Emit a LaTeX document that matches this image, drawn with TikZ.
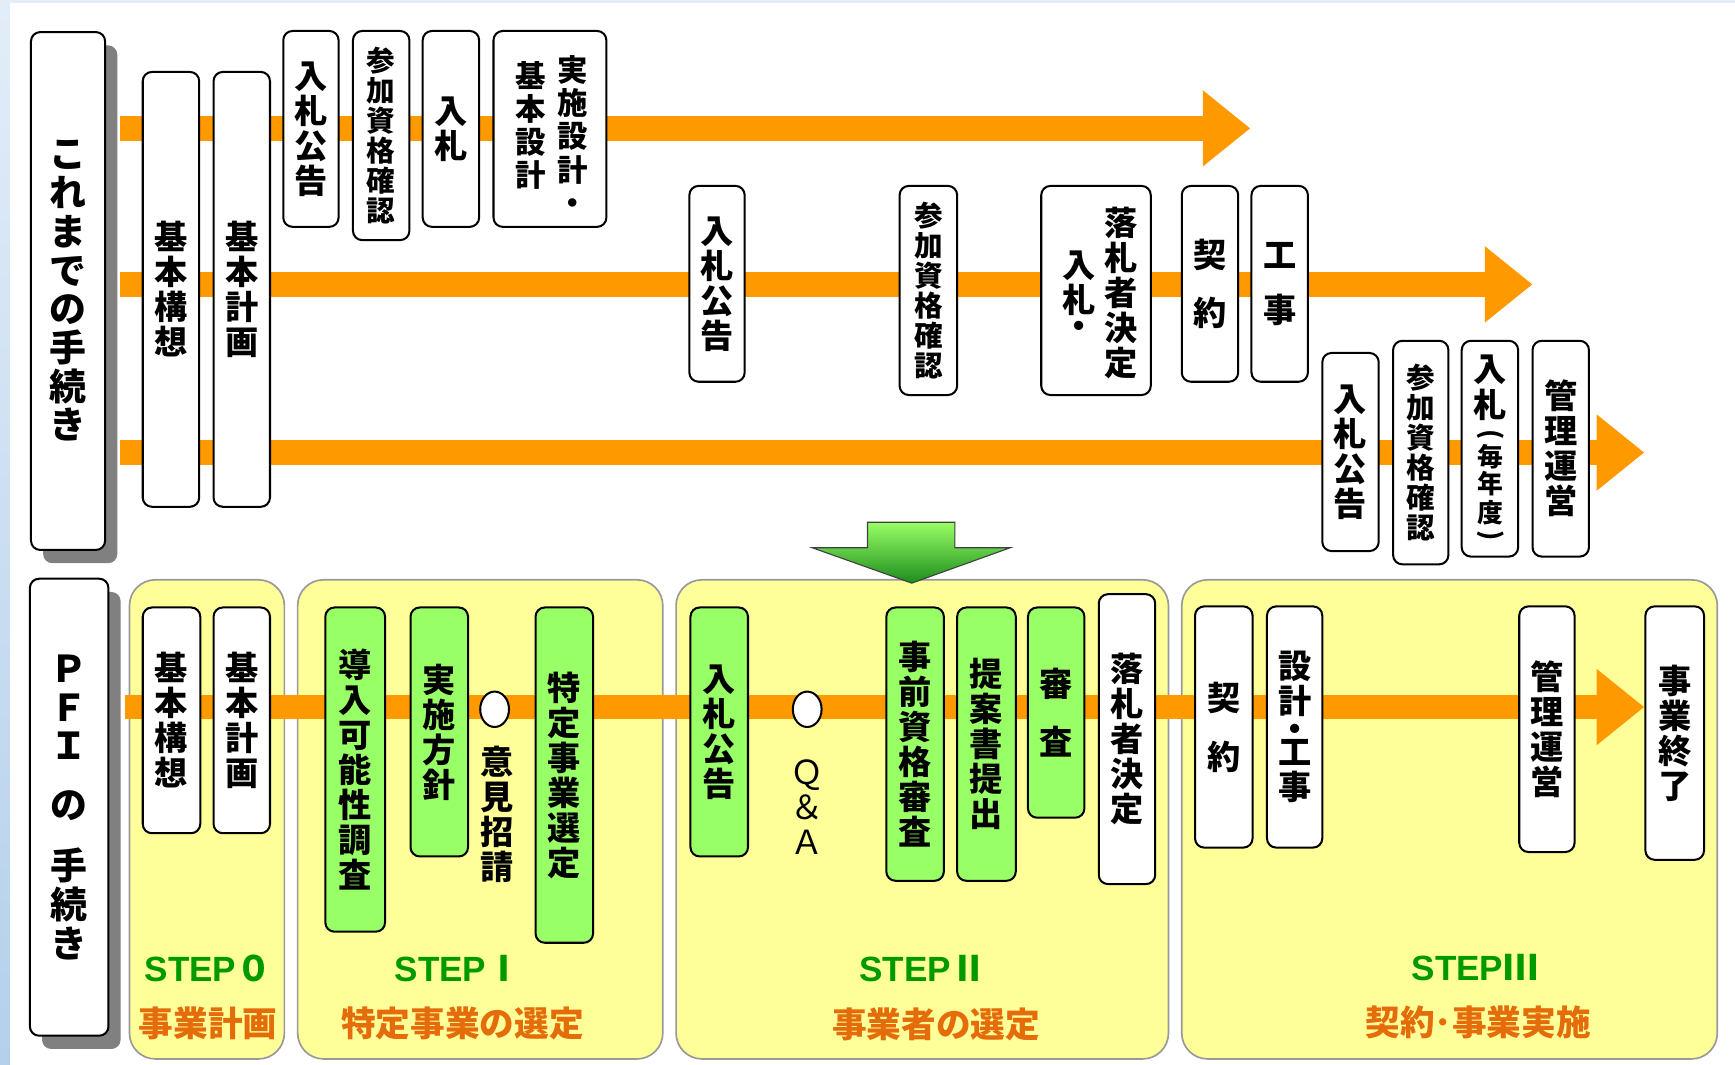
\documentclass[tikz,border=0pt]{standalone}
\usepackage{fontspec}
\setmainfont{Noto Sans CJK JP}
\newfontfamily\lsans{Liberation Sans}
\usetikzlibrary{shapes.geometric,arrows.meta,shadows}
\definecolor{orl}{HTML}{FF9900}
\definecolor{gbox}{HTML}{99FF66}
\definecolor{ypan}{HTML}{FFFF99}
\definecolor{stepg}{HTML}{009900}
\definecolor{subor}{HTML}{E46C0A}
\definecolor{bgblue}{HTML}{E2EDF8}
\definecolor{bgblue2}{HTML}{B4D0EC}
\definecolor{gdark}{HTML}{1C8C1C}
\newcommand\stdf{\bfseries\fontsize{18}{19}\selectfont}
\newcommand\smf{\bfseries\fontsize{15.5}{16.2}\selectfont}
\newcommand\midf{\bfseries\fontsize{16.5}{18}\selectfont}
\newcommand\bigf{\bfseries\fontsize{20}{21}\selectfont}
\newcommand\tinyf{\bfseries\fontsize{14}{15}\selectfont}
\tikzset{
 box/.style={draw=black, line width=1.1pt, rounded corners=5pt, fill=white, inner sep=0pt, align=center, font=\stdf},
 gbx/.style={fill=gbox},
 panel/.style={draw=black!40, line width=0.9pt, rounded corners=14pt, fill=ypan},
 tl/.style={line width=13.2pt, orl, -{Triangle[length=25.8pt,width=39.6pt]}},
 shad/.style={drop shadow={shadow xshift=6.6pt, shadow yshift=-7.2pt, fill=black!50, opacity=1}},
 vt/.style={inner sep=0pt, align=center, font=\stdf},
 circ/.style={draw=black, line width=1.1pt, fill=white, ellipse, minimum width=15.6pt, minimum height=19.2pt, inner sep=0pt},
 stepl/.style={inner sep=0pt, text=stepg, font=\bfseries\fontsize{19}{20}\selectfont},
 subl/.style={inner sep=0pt, text=subor, font=\bfseries\fontsize{18.8}{20}\selectfont},
}
\newcommand{\mkbox}[7][]{%
  \pgfmathsetmacro\bxw{(#5-#3)*0.6}%
  \pgfmathsetmacro\bxh{(#6-#4)*0.6}%
  \node[box,minimum width=\bxw pt,minimum height=\bxh pt,#1] (#2) at ({(#3+#5)/2},{(#4+#6)/2}) {#7};}
\begin{document}
\begin{tikzpicture}[x=0.6pt,y=-0.6pt]
\useasboundingbox (0,0) rectangle (1568,962);
\fill[white] (0,0) rectangle (1568,962);
\shade[top color=bgblue, bottom color=bgblue2] (0,0) rectangle (9,962);
\fill[bgblue] (0,0) rectangle (1568,3);

% STEP panels
\mkbox[panel]{s0}{117}{524}{257}{957}{}
\mkbox[panel]{s1}{269}{524}{599}{957}{}
\mkbox[panel]{s2}{611}{524}{1056}{957}{}
\mkbox[panel]{s3}{1068}{524}{1552}{957}{}

% timeline arrows
\coordinate (a1s) at (108,116);  \coordinate (a1e) at (1130,116);
\coordinate (a2s) at (108,257);  \coordinate (a2e) at (1385,257);
\coordinate (a3s) at (108,409);  \coordinate (a3e) at (1486,409);
\coordinate (a4s) at (113,639);  \coordinate (a4e) at (1486,639);
\draw[tl] (a1s) -- (a1e);
\draw[tl] (a2s) -- (a2e);
\draw[tl] (a3s) -- (a3e);
\draw[tl] (a4s) -- (a4e);

% top: conventional procedure
\mkbox[shad,font=\bigf]{kore}{28}{29}{95}{497}{こ\\れ\\ま\\で\\の\\手\\続\\き}
\mkbox{t1}{129}{65}{180}{458}{基\\本\\構\\想}
\mkbox{t2}{193}{65}{244}{458}{基\\本\\計\\画}
\mkbox{t3}{256}{28}{306}{205}{入\\札\\公\\告}
\mkbox[font=\smf]{t4}{319}{28}{370}{217}{参\\加\\資\\格\\確\\認}
\mkbox{t5}{382}{28}{433}{205}{入\\札}
\mkbox{t6}{446}{28}{548}{205}{}
\node[vt,font=\midf] (t6r) at (518,122) {実\\施\\設\\計\\・};
\node[vt,font=\midf] (t6l) at (480,113.5) {基\\本\\設\\計};

\mkbox{r2a}{623}{168}{673}{345}{入\\札\\公\\告}
\mkbox[font=\smf]{r2b}{813}{168}{865}{357}{参\\加\\資\\格\\確\\認}
\mkbox{r2c}{941}{168}{1040}{357}{}
\node[vt] (r2cr) at (1013,264.5) {落\\札\\者\\決\\定};
\node[vt] (r2cl) at (975,266) {入\\札\\[-5pt]・};
\mkbox{r2d}{1068}{168}{1119}{345}{契\\[12pt]約}
\mkbox{r2e}{1131}{168}{1182}{345}{工\\[11pt]事}

\mkbox{r3a}{1195}{319}{1246}{498}{入\\札\\公\\告}
\mkbox[font=\smf]{r3b}{1259}{308}{1309}{510}{参\\加\\資\\格\\確\\認}
\mkbox{r3c}{1321}{308}{1372}{503}{}
\node[vt] (r3c1) at (1347,334) {入};
\node[vt] (r3c2) at (1347,366) {札};
\node[vt,font=\tinyf,rotate=-90] (r3c3) at (1347,393) {(};
\node[vt,font=\tinyf] (r3c4) at (1347,413) {毎};
\node[vt,font=\tinyf] (r3c5) at (1347,437) {年};
\node[vt,font=\tinyf] (r3c6) at (1347,463) {度};
\node[vt,font=\tinyf,rotate=-90] (r3c7) at (1347,484) {)};
\mkbox{r3d}{1385}{308}{1436}{503}{管\\理\\運\\営}

% green transition arrow
\shade[top color=gbox, bottom color=gdark, draw=black!75, line width=0.6pt]
  (784,472) -- (863,472) -- (863,495) -- (913,495) -- (824,527) -- (734,495) -- (784,495) -- cycle;

% bottom: PFI procedure
\mkbox[shad,font=\bigf]{pfi}{27}{523}{98}{936}{Ｐ\\Ｆ\\Ｉ\\[11pt]の\\[12pt]手\\続\\き}
\mkbox{b1}{129}{549}{181}{753}{基\\本\\構\\想}
\mkbox{b2}{193}{549}{244}{753}{基\\本\\計\\画}
\mkbox[gbx]{b3}{294}{549}{348}{842}{導\\入\\可\\能\\性\\調\\査}
\mkbox[gbx]{b4}{371}{549}{423}{774}{実\\施\\方\\針}
\node[circ] (c1) at (447,641) {};
\node[vt] (ikn) at (449,736) {意\\見\\招\\請};
\mkbox[gbx]{b5}{484}{549}{536}{852}{特\\定\\事\\業\\選\\定}
\mkbox[gbx]{b6}{624}{549}{676}{774}{入\\札\\公\\告}
\node[circ] (c2) at (729.5,641) {};
\node[vt,font=\fontsize{18}{19}\selectfont] (qa) at (729,729.5) {Ｑ\\＆\\Ａ};
\mkbox[gbx]{b7}{801}{549}{853}{796}{事\\前\\資\\格\\審\\査}
\mkbox[gbx]{b8}{865}{549}{918}{796}{提\\案\\書\\提\\出}
\mkbox[gbx]{b9}{929}{549}{980}{739}{審\\[12pt]査}
\mkbox{b10}{993}{537}{1044}{799}{落\\札\\者\\決\\定}
\mkbox{b11}{1080}{548}{1132}{766}{契\\[13pt]約}
\mkbox{b12}{1145}{548}{1195}{766}{設\\計\\[-3.5pt]・\\[-6.5pt]工\\事}
\mkbox{b13}{1373}{548}{1423}{770}{管\\理\\運\\営}
\mkbox{b14}{1487}{548}{1540}{777}{事\\業\\終\\了}

% step labels
\node[stepl] (st0) at (188,875) {{\lsans STEP}０};
\node[subl] (su0) at (188,925) {事業計画};
\node[stepl] (st1) at (414,875) {{\lsans STEP}Ⅰ};
\node[subl] (su1) at (418,925) {特定事業の選定};
\node[stepl] (st2) at (834,875) {{\lsans STEP}Ⅱ};
\node[subl] (su2) at (846,926) {事業者の選定};
\node[stepl] (st3) at (1333,874) {{\lsans STEP}Ⅲ};
\node[subl] (su3) at (1336,924) {契約･事業実施};
\end{tikzpicture}
\end{document}
